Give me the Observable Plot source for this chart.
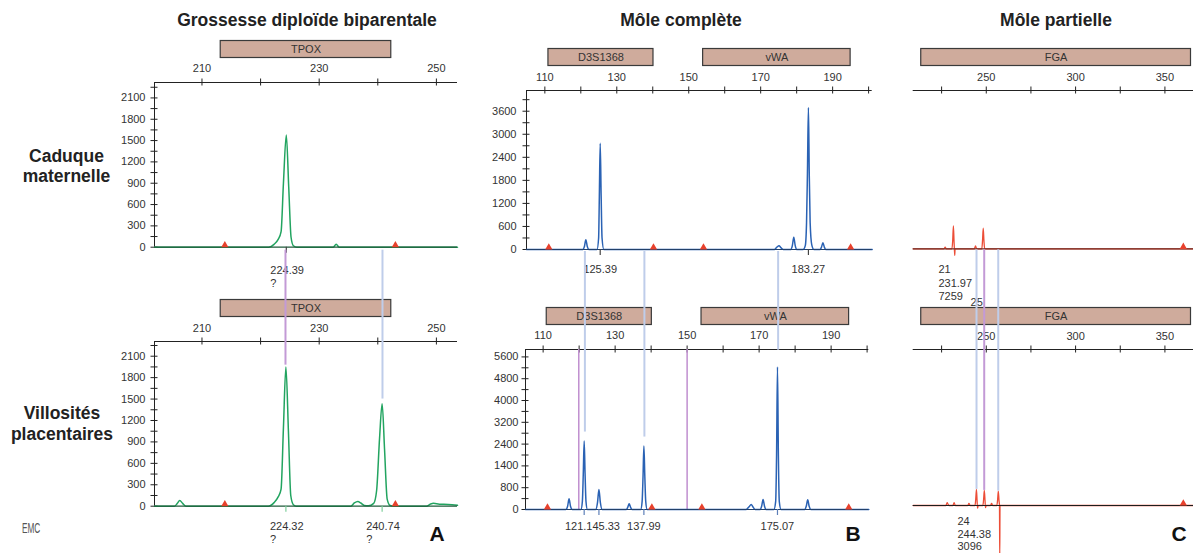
<!DOCTYPE html>
<html><head><meta charset="utf-8">
<script src="https://cdn.jsdelivr.net/npm/d3@7"></script>
<script src="https://cdn.jsdelivr.net/npm/@observablehq/plot@0.6"></script>
<style>
body{margin:0;background:#fff;}
#chart{position:relative;width:1193px;height:553px;overflow:hidden;background:#fff;font-family:"Liberation Sans",Arial,sans-serif;}
#chart svg{position:absolute;left:0;top:0;}
</style></head><body><div id="chart"></div>
<script>
// ---------------- DATA ----------------
const titles = ["Grossesse diploïde biparentale", "Môle complète", "Môle partielle"];
const rowLabels = [["Caduque", "maternelle"], ["Villosités", "placentaires"]];
const panelLetters = ["A", "B", "C"];

const tpoxLoci = [{name: "TPOX", start: 213.2, end: 242.3}];
const bLoci = [{name: "D3S1368", start: 111.0, end: 140.2}, {name: "vWA", start: 154.0, end: 195.0}];
const fgaLoci = [{name: "FGA", start: 213.6, end: 364.6}];

const aXTicks = [210, 220, 230, 240, 250];
const aXLabels = [210, 230, 250];
const aYTicks = [0,150,300,450,600,750,900,1050,1200,1350,1500,1650,1800,1950,2100,2250];
const aYLabels = [0,300,600,900,1200,1500,1800,2100];

const bXTicks = [110,120,130,140,150,160,170,180,190,200];
const bXLabels = [110,130,150,170,190];
const bTopYTicks = [0,300,600,900,1200,1500,1800,2100,2400,2700,3000,3300,3600,3900];
const bTopYLabels = [0,600,1200,1800,2400,3000,3600];
const bBotYTicks = [0,400,800,1200,1600,2000,2400,2800,3200,3600,4000,4400,4800,5200,5600];
const bBotYLabelPos = [0,800,1600,2400,3200,4000,4800,5600];
const bBotYLabelText = ["0","800","1400","2400","3200","4000","4800","5600"];

const cXTicks = [225,250,275,300,325,350];
const cXLabels = [250,300,350];

const aBins = [213.9, 243.0];
const bTopBins = [111.1, 140.2, 154.1, 195.0];
const bBotBins = [111.2, 140.2, 154.1, 194.9];
const cBins = [360.3];
const bBotBinLines = [119.9, 150.0];

// traces: [size (bp), height (RFU)]
const traceATop = [[201.9,0],[221.4,0],[222.3,40],[223.0,110],[223.5,220],[223.9,900],[224.39,1580],[224.8,850],[225.2,140],[225.6,20],[226.2,0],[232.4,0],[232.9,40],[233.4,0],[253.6,0]];
const traceABot = [[201.9,0],[205.3,0],[205.8,40],[206.2,80],[206.7,40],[207.3,0],[221.3,0],[222.3,50],[223.0,130],[223.5,240],[223.9,1100],[224.32,1950],[224.75,1050],[225.15,150],[225.6,20],[226.1,0],[235.4,0],[236.0,45],[236.6,65],[237.1,45],[237.7,10],[238.4,5],[239.3,40],[239.8,220],[240.3,950],[240.74,1436],[241.15,800],[241.6,100],[242.1,10],[242.7,0],[248.3,0],[249.0,30],[249.5,40],[250.5,28],[252,25],[253.6,12]];
const traceBTop = [[104.9,0],[120.6,0],[121.0,80],[121.4,254],[121.8,80],[122.2,0],[124.5,0],[124.95,300],[125.15,1400],[125.39,2763],[125.65,1400],[125.9,300],[126.4,0],[173.8,0],[174.5,60],[175.1,95],[175.6,50],[176.3,0],[178.4,0],[178.8,100],[179.2,321],[179.6,100],[180.0,0],[181.8,0],[182.4,100],[182.75,700],[183.0,2000],[183.27,3694],[183.5,2000],[183.75,700],[184.2,120],[184.8,0],[186.5,0],[186.9,60],[187.3,175],[187.7,60],[188.1,0],[201,0]];
const traceBBot = [[105.1,0],[116.3,0],[116.8,120],[117.2,393],[117.6,120],[118.1,0],[120.5,0],[120.9,300],[121.15,1300],[121.4,2511],[121.65,1300],[121.9,300],[122.3,0],[124.6,0],[125.1,250],[125.5,735],[125.9,250],[126.4,0],[133.1,0],[133.5,80],[133.9,210],[134.3,80],[134.7,0],[137.1,0],[137.5,300],[137.75,1200],[137.99,2328],[138.25,1200],[138.5,300],[138.9,0],[166.4,0],[167.2,100],[167.8,184],[168.3,90],[168.9,0],[170.3,0],[170.7,120],[171.1,368],[171.5,120],[171.9,0],[174.1,0],[174.6,300],[174.85,2000],[175.1,5232],[175.35,2000],[175.6,300],[176.1,0],[182.7,0],[183.1,120],[183.5,356],[183.9,120],[184.4,0],[200.47,0]];
const traceCTop = [[209.1,0],[226.3,0],[227,500],[227.6,0],[230.8,0],[231.2,2500],[231.6,7259],[231.95,2500],[232.15,0],[232.35,-2100],[232.55,0],[243.3,0],[244,900],[244.6,0],[247.5,0],[247.9,2500],[248.3,6500],[248.7,2500],[249.1,0],[366,0]];
const traceCBot = [[209.1,0],[227.4,0],[228.1,550],[228.7,200],[229.2,0],[231.3,0],[232.0,550],[232.7,0],[239.6,0],[240.3,380],[241,0],[243.7,0],[244.1,1200],[244.5,3096],[244.85,1000],[245.1,-500],[245.5,0],[248.1,0],[248.5,1100],[248.9,2900],[249.3,1000],[249.55,-400],[249.95,0],[252.3,0],[253.0,380],[253.6,0],[255.9,0],[256.35,1100],[256.75,2760],[257.15,900],[257.4,0],[257.55,-10000],[257.7,0],[366,0]];

// peak annotations
const aTopPeakTicks = [224.39];
const aBotPeakTicks = [224.32, 240.74];
const bTopPeakTicks = [125.39, 183.27];
const bBotPeakTicks = [121.4, 125.5, 137.99, 175.1];
const aTopLabels = [{x: 224.39, text: "224.39\n?"}];
const aBotLabels = [{x: 224.32, text: "224.32\n?"}, {x: 240.74, text: "240.74\n?"}];
const bTopLabels = [{x: 125.39, text: "125.39"}, {x: 183.27, text: "183.27"}];
const bBotLabels = [{x: 123.7, text: "121.145.33"}, {x: 137.99, text: "137.99"}, {x: 175.07, text: "175.07"}];
const cTopLabels = [{x: 231.6, text: "21\n231.97\n7259"}];
const cTopLabels2 = [{x: 248.3, text: "25"}];
const cBotLabels = [{x: 244.5, text: "24\n244.38\n3096"}];

// links between upper and lower profiles: x (lower scale), end height (lower scale)
const aLinks = [{kind: "purple", x: 224.25, yEnd: 1975}, {kind: "blue", x: 240.8, yEnd: 1500}];
const bLinks = [{kind: "blue", x: 121.6, yEnd: 2842}, {kind: "blue", x: 138.13, yEnd: 2658}, {kind: "blue", x: 175.28, yEnd: 5846}];
const cLinks = [{kind: "blue", x: 244.54, yEnd: 3096}, {kind: "purple", x: 248.85, yEnd: 2900}, {kind: "blue", x: 256.7, yEnd: 2760}];

// ---------------- STYLE / LAYOUT ----------------
const W = 1193, H = 553;
const FONT = '"Liberation Sans", Arial, Helvetica, sans-serif';
const BOX_FILL = "#cfab9c", BOX_STROKE = "#3a3a3a";
const BOX_GAP = 24.5, BOX_H = 17;
const GREEN = "#22a460", BLUE = "#2a62b4", RED = "#ec4d37", TRI = "#e8412c";
const PURPLE = "#c39ad6", LIGHTBLUE = "#bfcdea";
const AXIS = "#222", TXT = "#333";
const TICK = 3.5;

const LAY = {
  aTop: {X0: 154, X1: 457, Y0: 82, Y1: 246.7},
  aBot: {X0: 154, X1: 457, Y0: 341, Y1: 505.7},
  bTop: {X0: 526, X1: 871.7, Y0: 90, Y1: 249},
  bBot: {X0: 525, X1: 868.3, Y0: 349, Y1: 509},
  cTop: {X0: 912.7, X1: 1193, Y0: 90, Y1: 248.3},
  cBot: {X0: 912.7, X1: 1193, Y0: 349, Y1: 505}
};

function panel(p) {
  const L = p.layout, ym = p.yMax, [xa, xb] = p.xDomain;
  const m = [];
  // locus boxes
  m.push(Plot.rect(p.loci, {x1: "start", x2: "end", y1: () => ym, y2: () => ym,
    insetTop: -(BOX_GAP + BOX_H), insetBottom: BOX_GAP, fill: BOX_FILL, stroke: BOX_STROKE, strokeWidth: 1.2}));
  m.push(Plot.text(p.loci, {x: d => (d.start + d.end) / 2, y: () => ym, dy: -(BOX_GAP + BOX_H / 2),
    text: "name", fill: TXT, fontSize: 11}));
  // top axis: line, crossing ticks, labels
  m.push(Plot.ruleY([ym], {y: d => d, x1: () => xa, x2: () => xb, stroke: AXIS, strokeWidth: 1}));
  m.push(Plot.ruleX(p.xTicks, {x: d => d, y1: () => ym, y2: () => ym, insetTop: -TICK, insetBottom: -TICK, stroke: AXIS, strokeWidth: 1}));
  m.push(Plot.axisX(p.xLabels, {anchor: "top", tickSize: 0, tickPadding: p.xPad, fill: TXT, fontSize: 11,
    label: null, tickFormat: d => `${d}`}));
  // left axis: line, crossing ticks, labels
  if (p.yTicks) {
    m.push(Plot.ruleX([xa], {x: d => d, y1: () => 0, y2: () => ym, stroke: AXIS, strokeWidth: 1}));
    m.push(Plot.ruleY(p.yTicks, {y: d => d, x1: () => xa, x2: () => xa, insetLeft: -TICK, insetRight: -TICK, stroke: AXIS, strokeWidth: 1}));
    m.push(Plot.axisY(p.yLabels, {anchor: "left", tickSize: 0, tickPadding: p.yPad, fill: TXT, fontSize: 11,
      label: null, tickFormat: p.yFormat || (d => `${d}`)}));
  }
  // extra bin lines
  if (p.binLines) m.push(Plot.ruleX(p.binLines, {x: d => d, y1: () => 0, y2: () => ym, stroke: "#c08fcf", strokeWidth: 1.5}));
  // trace + baseline
  m.push(Plot.line(p.trace, {x: d => d[0], y: d => d[1], stroke: p.color, strokeWidth: p.sw || 1.5, curve: "monotone-x"}));
  m.push(Plot.ruleY([0], {stroke: p.baseColor, strokeWidth: 1.2}));
  // bins
  m.push(Plot.dot(p.bins, {x: d => d, y: () => 0, symbol: "triangle", r: 2.7, fill: TRI, dy: -2}));
  // peak ticks
  if (p.peakTicks) m.push(Plot.ruleX(p.peakTicks, {x: d => d, y1: () => 0, y2: () => 0, insetBottom: -6, stroke: p.tickColor, strokeWidth: 1.2}));
  // labels
  for (const lab of p.labels || []) {
    m.push(Plot.text(lab.data, {x: "x", y: () => 0, text: "text", lineAnchor: "top", textAnchor: lab.anchor,
      dx: lab.dx || 0, dy: lab.dy, lineHeight: lab.lh || 1.2, fill: TXT, fontSize: 11}));
  }
  // links from upper profile
  if (p.links) {
    const inset = p.linkFrom - L.Y0;
    m.push(Plot.ruleX(p.links.filter(d => d.kind === "blue"), {x: "x", y1: () => ym, y2: "yEnd", insetTop: inset, stroke: LIGHTBLUE, strokeWidth: 2}));
    m.push(Plot.ruleX(p.links.filter(d => d.kind === "purple"), {x: "x", y1: () => ym, y2: "yEnd", insetTop: inset, stroke: PURPLE, strokeWidth: 2}));
  }
  return Plot.plot({
    width: W, height: H,
    marginLeft: L.X0, marginRight: W - L.X1, marginTop: L.Y0, marginBottom: H - L.Y1,
    x: {domain: p.xDomain, label: null, axis: null},
    y: {domain: [0, ym], label: null, axis: null},
    style: {background: "transparent", overflow: "visible", fontFamily: FONT, fontSize: "11px", color: TXT},
    marks: m
  });
}

const bMap = new Map(bBotYLabelPos.map((v, i) => [v, bBotYLabelText[i]]));

const panels = [
  {layout: LAY.aTop, xDomain: [201.9, 253.6], yMax: 2317, loci: tpoxLoci, xTicks: aXTicks, xLabels: aXLabels, xPad: 10.4,
   yTicks: aYTicks, yLabels: aYLabels, yPad: 9, trace: traceATop, color: GREEN, baseColor: "#1f5a3a", bins: aBins,
   peakTicks: aTopPeakTicks, tickColor: "#444",
   labels: [{data: aTopLabels, anchor: "start", dx: -16, dy: 17.1}]},
  {layout: LAY.aBot, xDomain: [201.9, 253.6], yMax: 2306, loci: tpoxLoci, xTicks: aXTicks, xLabels: aXLabels, xPad: 9.7,
   yTicks: aYTicks, yLabels: aYLabels, yPad: 9, trace: traceABot, color: GREEN, baseColor: "#1f5a3a", bins: aBins,
   peakTicks: aBotPeakTicks, tickColor: "#7fcf9c",
   labels: [{data: aBotLabels, anchor: "start", dx: -16, dy: 14.5}],
   links: aLinks, linkFrom: LAY.aTop.Y1 + 3},
  {layout: LAY.bTop, xDomain: [104.9, 201], yMax: 4139, loci: bLoci, xTicks: bXTicks, xLabels: bXLabels, xPad: 9.5,
   yTicks: bTopYTicks, yLabels: bTopYLabels, yPad: 10, trace: traceBTop, color: BLUE, baseColor: "#22406a", bins: bTopBins,
   peakTicks: bTopPeakTicks, tickColor: "#444",
   labels: [{data: bTopLabels, anchor: "middle", dy: 14.5}]},
  {layout: LAY.bBot, xDomain: [105.1, 200.47], yMax: 5872, loci: bLoci, xTicks: bXTicks, xLabels: bXLabels, xPad: 10.4,
   yTicks: bBotYTicks, yLabels: bBotYLabelPos, yFormat: d => bMap.get(d), yPad: 7, trace: traceBBot, color: BLUE,
   baseColor: "#22406a", bins: bBotBins, binLines: bBotBinLines,
   peakTicks: bBotPeakTicks, tickColor: "#5d7fb8",
   labels: [{data: bBotLabels, anchor: "middle", dy: 11.2}],
   links: bLinks, linkFrom: LAY.bTop.Y1 + 2},
  {layout: LAY.cTop, xDomain: [209.1, 366], yMax: 50000, loci: fgaLoci, xTicks: cXTicks, xLabels: cXLabels, xPad: 9.6,
   trace: traceCTop, color: RED, baseColor: "#6e2c24", bins: cBins, sw: 1.3,
   labels: [{data: cTopLabels, anchor: "start", dx: -15, dy: 15.2}, {data: cTopLabels2, anchor: "start", dx: -12.7, dy: 47.9}]},
  {layout: LAY.cBot, xDomain: [209.1, 366], yMax: 30000, loci: fgaLoci, xTicks: cXTicks, xLabels: cXLabels, xPad: 9.6,
   trace: traceCBot, color: RED, baseColor: "#1e1e1e", bins: cBins, sw: 1.3,
   labels: [{data: cBotLabels, anchor: "start", dx: -19, dy: 11, lh: 1.12}],
   links: cLinks, linkFrom: LAY.cTop.Y1 + 1}
];

const chart = document.getElementById("chart");
for (const p of panels) chart.appendChild(panel(p));

// ---------------- TITLES / LABELS ----------------
const svg = d3.select(chart).append("svg").attr("width", W).attr("height", H)
  .style("font-family", FONT);
const titleX = [307, 681, 1056];
titles.forEach((t, i) => svg.append("text").attr("x", titleX[i]).attr("y", 25.5).attr("text-anchor", "middle")
  .attr("font-weight", "bold").attr("font-size", 17.5).attr("fill", "#222").text(t));
const rowX = [66.5, 62];
const rowY = [[161.5, 181.5], [419, 440]];
rowLabels.forEach((lines, i) => lines.forEach((t, j) => svg.append("text").attr("x", rowX[i]).attr("y", rowY[i][j])
  .attr("text-anchor", "middle").attr("font-weight", "bold").attr("font-size", 17.5).attr("fill", "#222").text(t)));
const letterX = [437, 853, 1179];
panelLetters.forEach((t, i) => svg.append("text").attr("x", letterX[i]).attr("y", 541).attr("text-anchor", "middle")
  .attr("font-weight", "bold").attr("font-size", 21).attr("fill", "#111").text(t));
svg.append("text").attr("transform", "translate(22,533) scale(0.55,1)").attr("font-size", 15)
  .attr("fill", "#555").text("EMC");
</script></body></html>
